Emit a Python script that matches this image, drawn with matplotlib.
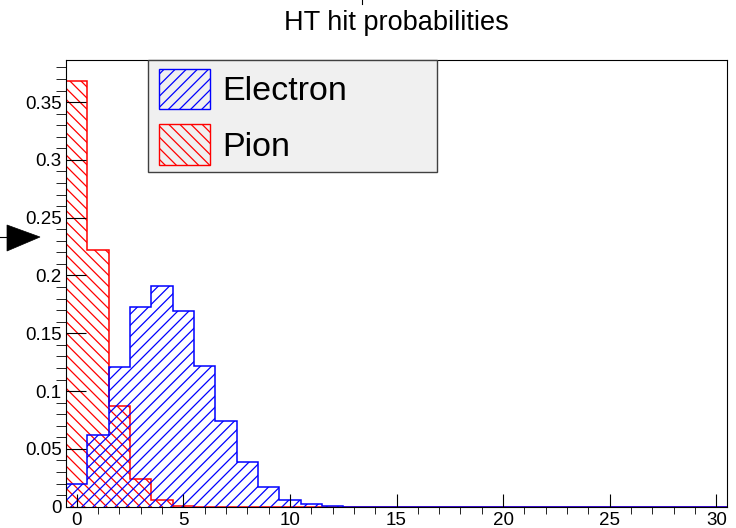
import numpy as np
import matplotlib
matplotlib.use("Agg")
import matplotlib.pyplot as plt
from matplotlib.ticker import MultipleLocator, FuncFormatter
from matplotlib.patches import Rectangle, Polygon
from matplotlib.lines import Line2D

# Datos (un bin por cada numero de hits, 0..30)
n_hits = list(range(31))
electron = [0.0193, 0.0616, 0.121, 0.173, 0.191, 0.169, 0.122, 0.0744, 0.0385, 0.0173,
            0.0056, 0.0022, 0.001, 0, 0, 0, 0, 0, 0, 0,
            0, 0, 0, 0, 0, 0, 0, 0, 0, 0, 0]
pion = [0.368, 0.222, 0.0868, 0.0243, 0.0056, 0.0009, 0, 0, 0, 0,
        0, 0, 0, 0, 0, 0, 0, 0, 0, 0,
        0, 0, 0, 0, 0, 0, 0, 0, 0, 0, 0]
labels = ["Electron", "Pion"]
title = "HT hit probabilities"

W, H = 736, 528


def fx(x):
    # pixel -> fraccion de figura (x)
    return x / W


def fy(y):
    # pixel medido desde arriba -> fraccion de figura (y)
    return 1 - y / H


def main():
    plt.rcParams['font.family'] = ['Liberation Sans', 'DejaVu Sans']
    plt.rcParams['hatch.linewidth'] = 0.9

    fig = plt.figure(figsize=(W / 100, H / 100), dpi=100)
    ax = fig.add_axes([fx(66), fy(506.7), fx(727) - fx(66), fy(60) - fy(506.7)])

    # Bordes de los bins centrados en enteros
    edges = np.append(np.array(n_hits) - 0.5, n_hits[-1] + 0.5)

    # Primero el pion (fija el rango), luego el electron encima
    ax.stairs(pion, edges, fill=True, facecolor='none', edgecolor='red',
              hatch='\\\\\\', linewidth=1.1, baseline=0)
    ax.stairs(electron, edges, fill=True, facecolor='none', edgecolor='blue',
              hatch='///', linewidth=1.1, baseline=0)

    ax.set_xlim(edges[0], edges[-1])
    ax.set_ylim(0, 1.05 * max(pion))

    # Ejes estilo ROOT
    ax.xaxis.set_major_locator(MultipleLocator(5))
    ax.xaxis.set_minor_locator(MultipleLocator(1))
    ax.yaxis.set_major_locator(MultipleLocator(0.05))
    ax.yaxis.set_minor_locator(MultipleLocator(0.01))
    ax.yaxis.set_major_formatter(FuncFormatter(lambda v, p: f"{v:g}"))
    ax.tick_params(direction='in', labelsize=13.5, width=0.8, color='black')
    ax.tick_params(axis='x', which='major', length=9.4, pad=4)
    ax.tick_params(axis='x', which='minor', length=5)
    ax.tick_params(axis='y', which='major', length=14.4, pad=3)
    ax.tick_params(axis='y', which='minor', length=7.2)
    for s in ax.spines.values():
        s.set_linewidth(0.8)

    # Titulo
    fig.text(fx(396), fy(30), title, ha='center', va='baseline', fontsize=19.5)

    # Leyenda dibujada a mano
    fig.add_artist(Rectangle((fx(148), fy(172)), fx(437) - fx(148), fy(60) - fy(172),
                             transform=fig.transFigure, facecolor='#f0f0f0',
                             edgecolor='#404040', linewidth=1.0, zorder=5))
    legend_style = [('blue', '///', 68.7, 108.7, 99.7),
                    ('red', '\\\\\\', 124, 164.7, 156.3)]
    for lab, (col, hatch, y0, y1, ybase) in zip(labels, legend_style):
        fig.add_artist(Rectangle((fx(158.7), fy(y1)), fx(209.7) - fx(158.7), fy(y0) - fy(y1),
                                 transform=fig.transFigure, facecolor='none',
                                 edgecolor=col, hatch=hatch, linewidth=1.0, zorder=6))
        fig.text(fx(222), fy(ybase), lab, ha='left', va='baseline', fontsize=24.5, zorder=7)

    # Flecha negra a la izquierda y marquita arriba
    fig.add_artist(Polygon([(fx(7), fy(225)), (fx(40), fy(237)), (fx(7), fy(251))],
                           closed=True, transform=fig.transFigure, facecolor='black',
                           edgecolor='black', linewidth=0.5))
    fig.add_artist(Line2D([fx(0), fx(8)], [fy(237), fy(237)], transform=fig.transFigure,
                          color='black', linewidth=0.8))
    fig.add_artist(Line2D([fx(362), fx(362)], [fy(0), fy(4)], transform=fig.transFigure,
                          color='black', linewidth=0.8))

    fig.savefig("out.png", dpi=100)


if __name__ == "__main__":
    main()
